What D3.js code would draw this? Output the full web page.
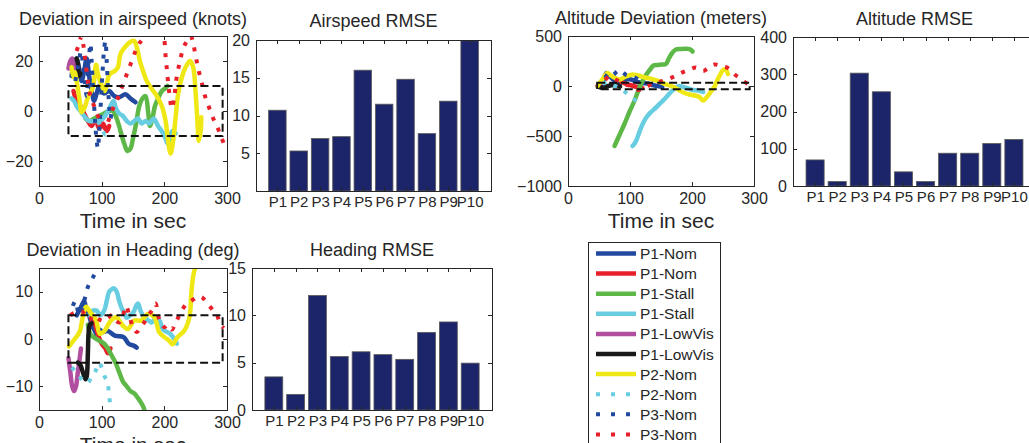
<!DOCTYPE html>
<html>
<head>
<meta charset="utf-8">
<script src="https://cdn.jsdelivr.net/npm/d3@7"></script>
<style>
  body { margin: 0; background: #fff; }
  svg { display: block; font-family: 'Liberation Sans', Arial, Helvetica, sans-serif; }
</style>
</head>
<body>
<script>
'use strict';

// ---- data ----
const legendNames = ['P1-Nom', 'P1-Nom', 'P1-Stall', 'P1-Stall', 'P1-LowVis', 'P1-LowVis',
                     'P2-Nom', 'P2-Nom', 'P3-Nom', 'P3-Nom'];
const pilots = ['P1', 'P2', 'P3', 'P4', 'P5', 'P6', 'P7', 'P8', 'P9', 'P10'];
const airspeedRmse = [10.7, 5.3, 6.95, 7.2, 16.0, 11.5, 14.8, 7.6, 11.9, 19.9];
const altitudeRmse = [70, 12, 303, 253, 38, 12, 88, 88, 114, 125];
const headingRmse = [3.5, 1.65, 12.1, 5.65, 6.15, 5.85, 5.35, 8.2, 9.3, 4.95];

const timeTicks = [0, 100, 200, 300];
const airspeedTicks = [-20, 0, 20];
const altitudeTicks = [-1000, -500, 0, 500];
const headingTicks = [-10, 0, 10];

// tolerance boxes [t0, t1, low, high]
const airspeedBox = [47, 293, -10, 10];
const altitudeBox = [47, 293, -33, 33];
const headingBox = [47, 293, -5, 5];

// airspeed deviation (knots) vs time (sec)
const spdBlue = [[52,14],[56,19],[60,21],[64,17],[68,12],[72,16],[76,21],[80,14],[84,8],[88,4],[92,7],[96,10],[100,8],[104,7],[112,8],[120,6],[128,5.5],[138,6.7],[146,5],[154,3.5]];
const spdRed = [[55,8],[60,4],[66,2],[72,-1],[78,-4],[84,-6],[90,-3],[96,-7],[102,-5],[108,-8],[112,-6]];
const spdGreen = [[74,-3],[80,-4],[88,-3],[96,-2],[104,-1],[112,0],[118,0],[124,-3],[130,-8],[136,-13],[141,-16],[146,-15],[150,-11],[155,-5],[160,2],[165,5],[170,6],[174,0],[177,-6],[181,-3],[185,2],[190,5],[196,8],[201,9],[205,10]];
const spdCyan = [[52,5],[56,4],[60,2],[66,0],[72,-2],[80,-4],[88,-4],[96,-4],[102,-3],[108,-1],[114,2],[119,4],[123,1],[128,-1],[134,-2],[140,-4],[146,-5],[152,-4],[158,-3],[164,-5],[170,-4],[176,-5],[183,-3],[190,-6],[197,-8.5],[202,-11],[205,-13],[209,-10],[213,-8],[218,-9]];
const spdMagenta = [[47,17],[50,20],[53,21],[56,19],[58,17]];
const spdBlack = [[60,21],[62,19],[63,16],[64,14],[66,15]];
const spdYellow = [[52,17.5],[55,13.5],[57,15.5],[60,12],[65,4],[68,-0.5],[73,1.5],[78,5.5],[86,9.5],[91,18.5],[94,14.8],[99,10.8],[105,8],[108,10.8],[113,14.8],[121,16],[126,17.5],[130,22.8],[137,25.5],[145,27.5],[152,28],[156,25.5],[161,20],[166,16],[172,12],[180,8.8],[188,6],[196,2],[202,-4],[206,-12],[210,-17],[214,-12],[218,-2.5],[222,6.8],[228,13.5],[235,18],[241,20],[246,17.5],[250,7],[253,-5],[255,-12],[258,-8],[259,-2.5]];
const spdCyanDot = [[94,-4],[98,-6],[102,-8],[106,-9.5],[110,-9]];
const spdBlueDot = [[58,12],[61,16],[64,20],[67,24],[70,19],[73,12],[76,6],[78,14],[80,22],[82,27],[84,20],[86,10],[88,2],[90,-6],[92,-12],[94,-15],[96,-8],[98,0],[100,10],[102,18],[104,25],[106,28],[108,20],[110,10],[112,2],[114,-3],[116,0]];
const spdRedDot = [[60,24],[64,27],[68,30],[71,26],[74,20],[78,12],[82,6],[88,2],[94,-2],[100,-5],[106,-7],[112,-3],[118,1],[124,4],[130,8],[136,12],[142,16],[148,20],[154,24],[160,27],[166,29],[172,32],[180,35],[190,34],[198,31],[202,22],[205,14],[208,7],[212,1],[216,6],[220,14],[225,20],[230,25],[236,28],[242,30],[246,27],[250,22],[255,16],[260,11],[266,5],[272,1],[278,-3],[284,-6],[290,-10],[295,-13]];

// altitude deviation (meters) vs time (sec)
const altBlue = [[58,60],[62,130],[66,110],[72,70],[78,40],[84,30],[90,50],[96,70],[104,60],[112,40],[120,30],[128,25],[136,10],[144,0],[152,-10]];
const altRed = [[86,40],[94,20],[100,10],[108,-5],[114,-15],[120,-20]];
const altGreen = [[75,-600],[83,-490],[91,-380],[99,-260],[107,-150],[115,-20],[121,60],[127,120],[133,170],[138,205],[145,210],[152,215],[158,220],[163,280],[168,330],[174,365],[182,370],[190,372],[196,368],[201,345]];
const altCyan = [[104,-600],[108,-570],[112,-515],[117,-430],[122,-360],[128,-300],[134,-260],[142,-215],[150,-165],[158,-115],[166,-60],[174,-15],[180,0],[186,-10],[194,-25],[202,-40],[210,-45],[218,-60]];
const altMagenta = [[47,0],[50,10],[53,5]];
const altBlack = [[50,-10],[56,-15],[62,-5],[68,5],[74,10],[80,5],[84,-5]];
const altYellow = [[48,0],[52,40],[56,70],[60,110],[64,130],[68,110],[72,95],[78,75],[84,65],[90,85],[96,100],[104,115],[110,110],[116,100],[124,85],[132,75],[140,60],[148,45],[156,20],[164,5],[172,-15],[180,-45],[188,-70],[196,-85],[204,-95],[212,-110],[218,-145],[224,-110],[230,-60],[236,-10],[241,60],[246,120],[250,160],[254,165],[258,120]];
const altCyanDot = [[56,20],[64,40],[72,10],[80,-10],[88,-40],[96,-80],[102,-110],[108,-140],[112,-160]];
const altBlueDot = [[60,80],[66,130],[72,110],[78,140],[83,160],[88,140],[94,110],[100,100],[106,90],[112,70],[118,50]];
const altRedDot = [[60,60],[66,95],[72,80],[78,60],[84,40],[90,20],[96,10],[102,0],[108,-20],[114,-40],[120,-30],[126,-10],[134,15],[142,30],[150,45],[158,60],[166,80],[174,105],[182,130],[190,150],[198,170],[206,185],[212,170],[218,150],[224,170],[230,200],[236,215],[242,210],[248,195],[254,190],[260,170],[266,130],[272,100],[278,75],[284,45],[290,20]];

// heading deviation (deg) vs time (sec)
const hdgBlue = [[60,5],[64,6],[68,7],[72,8],[76,6],[80,5],[84,3],[88,2],[92,1],[96,2],[102,1.5],[110,1.7],[121,0.7],[135,0.4],[143,-1],[151,-1.4],[156,-1.8]];
const hdgRed = [[88,4],[94,1],[100,-1],[106,-2],[110,-3],[114,-2]];
const hdgGreen = [[78,3],[82,1],[86,0.5],[92,0],[98,-0.5],[104,-1],[110,-2],[116,-3.5],[122,-5],[128,-7],[134,-9],[140,-10],[146,-11],[152,-11.5],[158,-12.5],[163,-13.5],[167,-14.5],[170,-16]];
const hdgCyan = [[80,5],[86,6],[92,6],[98,5],[104,6],[108,8],[112,10],[116,10.5],[120,10.7],[124,10],[128,8],[132,6.5],[136,5.5],[140,4.5],[145,5],[150,5.5],[155,7],[158,7.5],[162,6],[168,4.5],[174,4],[180,3.5],[186,4.5],[192,4],[198,2],[204,1.5],[210,1],[216,0],[220,-1]];
const hdgMagenta = [[47,-4],[50,-7],[53,-10],[56,-11],[59,-10],[62,-7],[65,-4],[67,-2]];
const hdgBlack = [[62,-5],[66,-5.5],[70,-7],[74,-8.5],[76,-8],[78,-3],[79,1],[81,3],[84,3.3]];
const hdgYellow = [[48,-1.6],[54,-0.5],[60,0.5],[65,1.6],[70,4.7],[75,6.8],[83,5.4],[91,4],[97,1.1],[105,1.8],[113,3.6],[123,4.6],[134,2.8],[142,2.1],[152,3.9],[163,3.9],[174,5.3],[184,4.6],[192,1.4],[200,0.4],[208,-0.4],[213,-1.1],[221,0.4],[232,1.8],[240,4.6],[243,9.5],[245,12.3],[248,14.5],[251,15.5]];
const hdgCyanDot = [[52,-6],[60,-7],[69,-8.6],[77,-9.3],[84,-8],[90,-6.8],[96,-5],[100,-6],[105,-8],[109,-9],[112,-12],[115,-15.5]];
const hdgBlueDot = [[54,7],[58,8],[62,6],[66,5],[70,7],[74,9],[78,11],[82,12],[86,13],[90,14],[94,15],[98,16]];
const hdgRedDot = [[50,5],[56,5.5],[62,5.5],[68,5.8],[74,5],[80,4],[86,5],[92,4.5],[98,4],[104,3.8],[110,4.5],[116,5],[122,4],[128,3.5],[134,5],[139,7],[144,5],[150,2.5],[156,1.5],[162,2.5],[168,3.5],[174,5],[180,6],[186,7.5],[190,5],[194,3.5],[200,2.5],[206,3],[212,2],[218,3.5],[224,5],[230,6.5],[236,7.5],[242,8],[248,8.5],[254,9],[260,8.8],[266,8],[272,7],[278,6],[284,5],[290,3],[295,2.3]];

// series style, same order as the legend
const seriesColors = ['#2149a0', '#e8202a', '#5db847', '#68cde0', '#b24ea0', '#1a1a1a',
                      '#efe815', '#68cde0', '#2149a0', '#e8202a'];
const seriesDotted = [false, false, false, false, false, false, false, true, true, true];

const axisColor = '#262626';
const barColor = '#1c2569';
const numFormat = d3.format('d');

const svg = d3.select('body').append('svg')
  .attr('width', 1029)
  .attr('height', 443);

let clipCount = 0;

// draw the four-sided MATLAB style box with inward ticks
function drawFrame(g, x, y, xTicks, yTicks, xFormat, xPad, xFont) {
  const [l, r] = x.range();
  const [b, t] = y.range();
  const style = (sel, size) => {
    sel.select('.domain').remove();
    sel.selectAll('line').attr('stroke', axisColor).attr('shape-rendering', 'crispEdges');
    sel.selectAll('text').attr('fill', axisColor);
    sel.attr('font-family', null).attr('font-size', size);
  };
  g.append('g').attr('transform', 'translate(0,' + b + ')')
    .call(d3.axisBottom(x).tickValues(xTicks).tickFormat(xFormat)
      .tickSizeInner(-4).tickSizeOuter(0).tickPadding(xPad))
    .call(style, xFont);
  g.append('g').attr('transform', 'translate(0,' + t + ')')
    .call(d3.axisTop(x).tickValues(xTicks).tickFormat('').tickSizeInner(-4).tickSizeOuter(0))
    .call(style, 16);
  g.append('g').attr('transform', 'translate(' + l + ',0)')
    .call(d3.axisLeft(y).tickValues(yTicks).tickFormat(numFormat)
      .tickSizeInner(-4).tickSizeOuter(0).tickPadding(6))
    .call(style, 16);
  g.append('g').attr('transform', 'translate(' + r + ',0)')
    .call(d3.axisRight(y).tickValues(yTicks).tickFormat('').tickSizeInner(-4).tickSizeOuter(0))
    .call(style, 16);
  g.append('rect')
    .attr('x', l).attr('y', t)
    .attr('width', r - l).attr('height', b - t)
    .attr('fill', 'none')
    .attr('stroke', axisColor)
    .attr('shape-rendering', 'crispEdges');
}

function addTitle(text, cx, baseline) {
  svg.append('text')
    .attr('x', cx).attr('y', baseline)
    .attr('text-anchor', 'middle')
    .attr('font-size', 18)
    .attr('fill', axisColor)
    .text(text);
}

function drawLinePlot(p) {
  const x = d3.scaleLinear().domain([0, 300]).range([p.left, p.right]);
  const y = d3.scaleLinear().domain(p.yDomain).range([p.bottom, p.top]);
  const g = svg.append('g');

  const id = 'clip' + (clipCount++);
  g.append('clipPath').attr('id', id)
    .append('rect')
    .attr('x', p.left).attr('y', p.top)
    .attr('width', p.right - p.left).attr('height', p.bottom - p.top);

  const plotArea = g.append('g').attr('clip-path', 'url(#' + id + ')');
  const line = d3.line()
    .x((d) => x(d[0]))
    .y((d) => y(d[1]))
    .curve(d3.curveCatmullRom.alpha(0.5));

  p.series.forEach((data, i) => {
    plotArea.append('path')
      .datum(data)
      .attr('fill', 'none')
      .attr('stroke', seriesColors[i])
      .attr('stroke-width', seriesDotted[i] ? 4 : 4.5)
      .attr('stroke-linejoin', 'round')
      .attr('stroke-linecap', seriesDotted[i] ? 'butt' : 'round')
      .attr('stroke-dasharray', seriesDotted[i] ? '4 8' : null)
      .attr('d', line);
  });

  // tolerance box
  const bx = p.box;
  plotArea.append('rect')
    .attr('x', x(bx[0])).attr('y', y(bx[3]))
    .attr('width', x(bx[1]) - x(bx[0]))
    .attr('height', y(bx[2]) - y(bx[3]))
    .attr('fill', 'none')
    .attr('stroke', '#111')
    .attr('stroke-width', 2)
    .attr('stroke-dasharray', '8 4');

  drawFrame(g, x, y, timeTicks, p.yTicks, numFormat, 6.5, 16);

  addTitle(p.title, (p.left + p.right) / 2, p.titleY);
  svg.append('text')
    .attr('x', (p.left + p.right) / 2).attr('y', p.bottom + 42)
    .attr('text-anchor', 'middle')
    .attr('font-size', 21)
    .attr('fill', axisColor)
    .text('Time in sec');
}

function drawBarPlot(p) {
  const x = d3.scaleLinear().domain([0, 11]).range([p.left, p.right]);
  const y = d3.scaleLinear().domain(p.yDomain).range([p.bottom, p.top]);
  const g = svg.append('g');
  const barW = 0.82;

  g.selectAll('.bar')
    .data(p.values)
    .enter()
    .append('rect')
    .attr('x', (d, i) => x(i + 1 - barW / 2))
    .attr('y', (d) => y(d))
    .attr('width', x(barW) - x(0))
    .attr('height', (d) => y(0) - y(d))
    .attr('fill', barColor)
    .attr('stroke', '#5a5a5a')
    .attr('stroke-width', 0.8);

  drawFrame(g, x, y, d3.range(1, 11), p.yTicks, (d) => pilots[d - 1], 5, 15);
  addTitle(p.title, (p.left + p.right) / 2, p.titleY);
}

function drawLegend() {
  const g = svg.append('g');
  const left = 588, top = 242, rowH = 20.1;
  g.append('rect')
    .attr('x', left).attr('y', top)
    .attr('width', 132).attr('height', 240)
    .attr('fill', '#fff')
    .attr('stroke', axisColor)
    .attr('shape-rendering', 'crispEdges');
  legendNames.forEach((name, i) => {
    const cy = top + 11.5 + i * rowH;
    g.append('line')
      .attr('x1', left + 8).attr('x2', left + 48)
      .attr('y1', cy).attr('y2', cy)
      .attr('stroke', seriesColors[i])
      .attr('stroke-width', seriesDotted[i] ? 4 : 4.5)
      .attr('stroke-dasharray', seriesDotted[i] ? '4 11' : null);
    g.append('text')
      .attr('x', left + 52).attr('y', cy)
      .attr('dy', '0.36em')
      .attr('font-size', 15.5)
      .attr('fill', axisColor)
      .text(name);
  });
}

drawLinePlot({
  left: 39, right: 227, top: 36, bottom: 186,
  yDomain: [-30, 30], yTicks: airspeedTicks, box: airspeedBox,
  title: 'Deviation in airspeed (knots)', titleY: 25,
  series: [spdBlue, spdRed, spdGreen, spdCyan, spdMagenta, spdBlack, spdYellow, spdCyanDot, spdBlueDot, spdRedDot]
});
drawBarPlot({
  left: 256, right: 491, top: 40, bottom: 191,
  yDomain: [0, 20], yTicks: [5, 10, 15, 20], values: airspeedRmse,
  title: 'Airspeed RMSE', titleY: 27
});
drawLinePlot({
  left: 568, right: 754, top: 36, bottom: 186,
  yDomain: [-1000, 500], yTicks: altitudeTicks, box: altitudeBox,
  title: 'Altitude Deviation (meters)', titleY: 24,
  series: [altBlue, altRed, altGreen, altCyan, altMagenta, altBlack, altYellow, altCyanDot, altBlueDot, altRedDot]
});
drawBarPlot({
  left: 793, right: 1036, top: 37, bottom: 186,
  yDomain: [0, 400], yTicks: [0, 100, 200, 300, 400], values: altitudeRmse,
  title: 'Altitude RMSE', titleY: 25
});
drawLinePlot({
  left: 39, right: 227, top: 268, bottom: 410,
  yDomain: [-15, 15], yTicks: headingTicks, box: headingBox,
  title: 'Deviation in Heading (deg)', titleY: 256,
  series: [hdgBlue, hdgRed, hdgGreen, hdgCyan, hdgMagenta, hdgBlack, hdgYellow, hdgCyanDot, hdgBlueDot, hdgRedDot]
});
drawBarPlot({
  left: 252, right: 492, top: 268, bottom: 410,
  yDomain: [0, 15], yTicks: [0, 5, 10, 15], values: headingRmse,
  title: 'Heading RMSE', titleY: 256
});
drawLegend();
</script>
</body>
</html>
